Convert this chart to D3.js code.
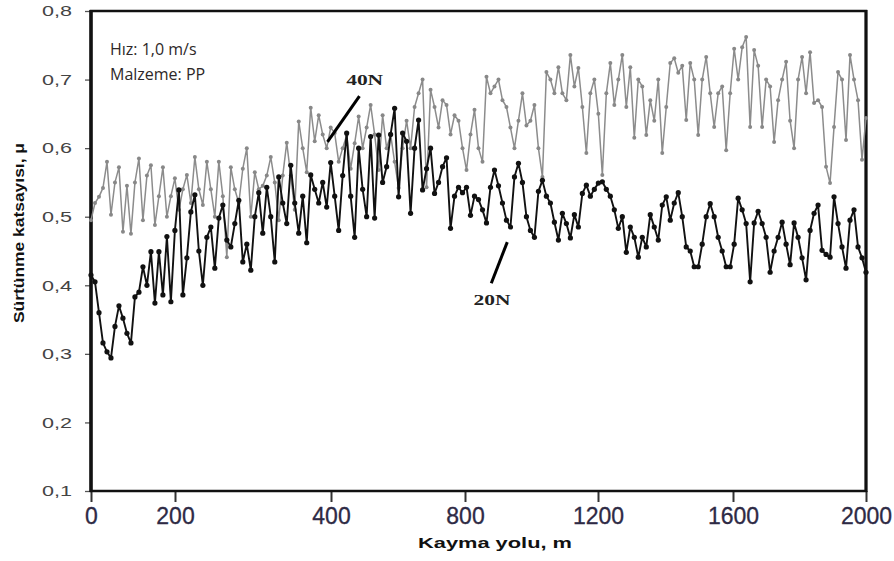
<!DOCTYPE html>
<html><head><meta charset="utf-8">
<script src="https://cdn.jsdelivr.net/npm/d3@7"></script>
<style>html,body{margin:0;padding:0;background:#fff;} svg{display:block;}</style>
</head><body><svg id="c" width="894" height="561"></svg>
<script>
// ---- data ----
const xTicks = [0, 200, 400, 800, 1200, 1600, 2000];
const yTicks = [0.1, 0.2, 0.3, 0.4, 0.5, 0.6, 0.7, 0.8];
const xTitle = "Kayma yolu, m";
const yTitle = "Sürtünme katsayısı, μ";
const infoLines = ["Hız: 1,0 m/s", "Malzeme: PP"];
const seriesNames = ["20N", "40N"];

// friction coefficient, 20 N load (black)
const load20N = [
0.415,0.405,0.36,0.316,0.303,0.294,0.34,0.37,0.352,0.33,
0.316,0.383,0.39,0.427,0.40,0.449,0.374,0.449,0.386,0.471,
0.376,0.48,0.539,0.386,0.44,0.507,0.532,0.45,0.40,0.47,
0.485,0.425,0.498,0.517,0.466,0.456,0.49,0.524,0.434,0.46,
0.422,0.50,0.535,0.476,0.543,0.50,0.434,0.558,0.52,0.49,
0.575,0.52,0.476,0.53,0.462,0.561,0.54,0.52,0.55,0.514,
0.579,0.53,0.48,0.56,0.622,0.53,0.47,0.60,0.54,0.50,
0.617,0.498,0.619,0.55,0.573,0.62,0.658,0.529,0.622,0.61,
0.505,0.60,0.641,0.539,0.57,0.60,0.534,0.55,0.573,0.586,
0.483,0.53,0.543,0.535,0.543,0.502,0.53,0.525,0.51,0.491,
0.543,0.568,0.545,0.52,0.495,0.485,0.558,0.578,0.55,0.50,
0.48,0.47,0.537,0.553,0.53,0.52,0.492,0.466,0.505,0.49,
0.469,0.503,0.485,0.534,0.546,0.53,0.54,0.549,0.551,0.54,
0.53,0.51,0.483,0.50,0.448,0.485,0.47,0.441,0.47,0.456,
0.503,0.485,0.466,0.517,0.529,0.495,0.52,0.535,0.50,0.456,
0.45,0.427,0.427,0.46,0.50,0.519,0.50,0.47,0.45,0.427,
0.427,0.46,0.527,0.51,0.49,0.405,0.491,0.508,0.49,0.47,
0.419,0.45,0.47,0.492,0.46,0.43,0.491,0.47,0.44,0.408,
0.48,0.505,0.517,0.451,0.445,0.441,0.529,0.49,0.456,0.425,
0.495,0.51,0.456,0.44,0.419
];

// friction coefficient, 40 N load (grey)
const load40N = [
0.495,0.52,0.529,0.542,0.58,0.503,0.55,0.572,0.478,0.545,
0.475,0.55,0.585,0.495,0.56,0.575,0.488,0.53,0.572,0.50,
0.53,0.556,0.51,0.54,0.561,0.52,0.587,0.54,0.517,0.58,
0.54,0.50,0.58,0.53,0.441,0.572,0.54,0.52,0.57,0.60,
0.50,0.565,0.54,0.545,0.56,0.587,0.55,0.495,0.56,0.608,
0.56,0.51,0.639,0.60,0.565,0.659,0.61,0.648,0.62,0.60,
0.63,0.622,0.58,0.60,0.619,0.57,0.607,0.646,0.60,0.63,
0.663,0.62,0.568,0.648,0.60,0.62,0.58,0.542,0.60,0.64,
0.60,0.66,0.68,0.70,0.543,0.685,0.66,0.63,0.67,0.663,
0.62,0.648,0.64,0.60,0.568,0.62,0.656,0.60,0.58,0.704,
0.68,0.69,0.70,0.67,0.66,0.63,0.60,0.64,0.68,0.633,
0.64,0.663,0.60,0.558,0.711,0.70,0.68,0.718,0.68,0.67,
0.736,0.69,0.717,0.66,0.593,0.68,0.70,0.65,0.561,0.68,
0.724,0.663,0.70,0.736,0.66,0.718,0.615,0.70,0.69,0.619,
0.67,0.64,0.70,0.593,0.66,0.724,0.731,0.71,0.72,0.641,
0.724,0.70,0.619,0.70,0.733,0.68,0.631,0.68,0.69,0.597,
0.68,0.745,0.70,0.747,0.762,0.631,0.743,0.72,0.631,0.70,
0.69,0.609,0.67,0.70,0.726,0.64,0.60,0.70,0.733,0.68,
0.74,0.666,0.67,0.66,0.573,0.549,0.631,0.711,0.70,0.612,
0.736,0.70,0.67,0.583,0.644
];

// annotation anchors in (sample index, μ) units
const label40N = {text: "40N", x: 68.5, y: 0.692, lx1: 67.2, ly1: 0.676, lx2: 59.2, ly2: 0.609};
const label20N = {text: "20N", x: 100.4, y: 0.371, lx1: 104.2, ly1: 0.463, lx2: 100.2, ly2: 0.403};

// ---- drawing ----
const svg = d3.select("#c");
svg.append("rect").attr("width", 894).attr("height", 561).attr("fill", "#fff");

const L = 91, R = 866, T = 11, B = 491;
const y = d3.scaleLinear().domain([0.1, 0.8]).range([B, T]);
// the printed distance axis is not uniform; ticks sit at these positions
const xAxisScale = d3.scaleLinear().domain(xTicks).range([91, 175, 331, 465, 598, 733, 866]);
const n = load20N.length;
const xs = d3.scaleLinear().domain([0, n - 1]).range([L, R]);

const comma = v => d3.format(".1f")(v).replace(".", ",");

// y axis
const gy = svg.append("g").attr("transform", `translate(${L},0)`)
  .call(d3.axisLeft(y).tickValues(yTicks).tickSize(6).tickPadding(13).tickFormat(comma));
gy.select(".domain").remove();
gy.selectAll(".tick line").attr("stroke", "#555").attr("stroke-width", 1.3);
gy.selectAll(".tick text").attr("font-family", "'Liberation Sans', Arial, sans-serif")
  .attr("font-size", 15).attr("fill", "#444")
  .attr("textLength", 30).attr("lengthAdjust", "spacingAndGlyphs");

// x axis
const gx = svg.append("g").attr("transform", `translate(0,${B})`)
  .call(d3.axisBottom(xAxisScale).tickValues(xTicks).tickSize(11).tickPadding(6).tickFormat(d3.format("d")));
gx.select(".domain").remove();
gx.selectAll(".tick line").attr("stroke", "#333").attr("stroke-width", 2);
gx.selectAll(".tick text").attr("font-family", "'Liberation Sans', Arial, sans-serif")
  .attr("font-size", 23).attr("fill", "#2e2a45")
  .attr("stroke", "#2e2a45").attr("stroke-width", 0.3);

// frame
svg.append("rect").attr("x", L).attr("y", T).attr("width", R - L).attr("height", B - T)
  .attr("fill", "none").attr("stroke", "#111").attr("stroke-width", 2.5);
svg.append("line").attr("x1", L).attr("x2", L).attr("y1", T - 1).attr("y2", B + 1)
  .attr("stroke", "#111").attr("stroke-width", 3.5);
svg.append("line").attr("x1", R).attr("x2", R).attr("y1", T - 1).attr("y2", B + 1)
  .attr("stroke", "#111").attr("stroke-width", 3);

// series
const line = d3.line().x((d, i) => xs(i)).y(d => y(d));
function drawSeries(data, color, lw, r, mcolor) {
  const g = svg.append("g");
  g.append("path").datum(data).attr("d", line).attr("fill", "none")
    .attr("stroke", color).attr("stroke-width", lw).attr("stroke-linejoin", "round");
  g.selectAll("circle").data(data).join("circle")
    .attr("cx", (d, i) => xs(i)).attr("cy", d => y(d)).attr("r", r).attr("fill", mcolor);
}
drawSeries(load40N, "#8c8c8c", 1.5, 2.0, "#888");
drawSeries(load20N, "#111", 1.9, 2.6, "#111");

// annotations
[label40N, label20N].forEach(a => {
  svg.append("line").attr("x1", xs(a.lx1)).attr("y1", y(a.ly1)).attr("x2", xs(a.lx2)).attr("y2", y(a.ly2))
    .attr("stroke", "#000").attr("stroke-width", 3);
  svg.append("text").attr("x", xs(a.x)).attr("y", y(a.y)).attr("text-anchor", "middle")
    .attr("font-family", "'Liberation Serif', 'Times New Roman', serif").attr("font-weight", "bold")
    .attr("font-size", 15).attr("fill", "#222")
    .attr("textLength", 37).attr("lengthAdjust", "spacingAndGlyphs").text(a.text);
});

// info text
svg.selectAll("text.info").data(infoLines).join("text").attr("class", "info")
  .attr("x", 110).attr("y", (d, i) => 55 + i * 25)
  .attr("font-family", "'Open Sans', 'Noto Sans', sans-serif").attr("font-size", 16)
  .attr("fill", "#2e2828").text(d => d);

// axis titles
svg.append("text").attr("x", 495).attr("y", 548).attr("text-anchor", "middle")
  .attr("font-family", "'Liberation Sans', Arial, sans-serif").attr("font-weight", "bold")
  .attr("font-size", 15).attr("fill", "#111")
  .attr("textLength", 154).attr("lengthAdjust", "spacingAndGlyphs").text(xTitle);
svg.append("text").attr("transform", "translate(24,233) rotate(-90)").attr("text-anchor", "middle")
  .attr("font-family", "'Liberation Sans', Arial, sans-serif").attr("font-weight", "bold")
  .attr("font-size", 15).attr("fill", "#111")
  .attr("textLength", 180).attr("lengthAdjust", "spacingAndGlyphs").text(yTitle);
</script></body></html>
